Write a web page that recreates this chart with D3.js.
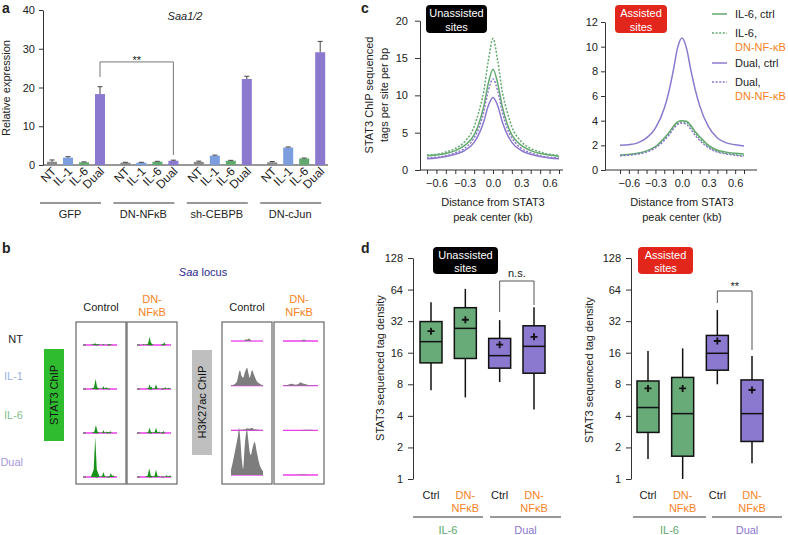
<!DOCTYPE html>
<html>
<head>
<meta charset="utf-8">
<script src="https://cdn.jsdelivr.net/npm/d3@7"></script>
<style>
  body { margin: 0; background: #fff; }
  svg { display: block; font-family: "Liberation Sans", Arial, sans-serif; }
</style>
</head>
<body>
<div id="fig"></div>
<script>
// ---------- panel a : Saa1/2 expression ----------
const groups = ["GFP", "DN-NFκB", "sh-CEBPB", "DN-cJun"];
const treatments = ["NT", "IL-1", "IL-6", "Dual"];
const exprMean = [[0.85, 1.9, 0.7, 18.3], [0.6, 0.6, 0.85, 1.1], [0.8, 2.4, 1.1, 22.2], [0.7, 4.5, 1.7, 29.1]];
const exprErr = [[0.45, 0.25, 0.1, 1.9], [0.1, 0.1, 0.1, 0.15], [0.2, 0.15, 0.1, 0.7], [0.2, 0.15, 0.1, 2.8]];
const aTicks = [0, 10, 20, 30, 40];

// ---------- panel b : browser tracks (peak position 0-1, height) ----------
const trackRows = ["NT", "IL-1", "IL-6", "Dual"];
const stat3Ctrl = [
  [[0.3, 1.5], [0.36, 2], [0.45, 1.2], [0.6, 1], [0.8, 1.2]],
  [[0.37, 10], [0.6, 2.7], [0.68, 2]],
  [[0.38, 8], [0.6, 2.7], [0.7, 1.5], [0.8, 2]],
  [[0.36, 40], [0.6, 5], [0.82, 4], [0.88, 2]]
];
const stat3Dn = [
  [[0.2, 1], [0.37, 8], [0.42, 2], [0.8, 2.7]],
  [[0.37, 4.7], [0.42, 2.5], [0.56, 4.7], [0.83, 2], [0.93, 1.5]],
  [[0.37, 5.3], [0.56, 5.3], [0.66, 1.5], [0.78, 2]],
  [[0.36, 8.7], [0.56, 7.3], [0.87, 2], [0.97, 1.8]]
];
const h3Ctrl = [
  [[0, 0], [0.4, 0], [0.45, 1.5], [0.52, 1.5], [0.56, 2.5], [0.6, 1.5], [0.65, 0], [1, 0]],
  [[0, 0], [0.08, 1], [0.18, 4], [0.28, 15.5], [0.33, 10], [0.38, 8], [0.44, 14], [0.5, 18], [0.55, 12], [0.58, 8], [0.66, 15.5], [0.72, 11], [0.8, 5], [0.9, 2], [1, 0.5]],
  [[0, 0], [0.35, 0.5], [0.45, 1], [0.5, 2], [0.58, 1.5], [0.65, 2.5], [0.72, 1], [0.85, 0.5], [1, 0]],
  [[0, 5], [0.05, 12], [0.15, 28], [0.22, 40], [0.25, 47], [0.29, 36], [0.34, 15], [0.38, 6], [0.42, 25], [0.47, 42], [0.5, 45], [0.54, 35], [0.58, 24], [0.62, 20], [0.68, 28], [0.74, 33], [0.8, 24], [0.88, 12], [0.95, 6], [1, 4]]
];
const h3Dn = [
  [[0, 0], [0.5, 0], [0.6, 1.5], [0.68, 0], [1, 0]],
  [[0, 0], [0.15, 1], [0.25, 1.8], [0.35, 1], [0.45, 2], [0.5, 3.5], [0.55, 2.5], [0.65, 1.5], [0.75, 0.5], [1, 0]],
  [[0, 0], [0.5, 0], [0.6, 0.7], [0.8, 0.7], [0.9, 0], [1, 0]],
  [[0, 0], [0.4, 0], [0.5, 0.6], [0.65, 0.6], [0.7, 0], [1, 0]]
];

// ---------- panel c : STAT3 ChIP profiles ----------
const distKb = [-0.7, -0.6, -0.5, -0.4, -0.3, -0.2, -0.15, -0.1, -0.05, 0, 0.05, 0.1, 0.15, 0.2, 0.3, 0.4, 0.5, 0.6, 0.7];
const unIl6Ctrl = [1.9, 2.0, 2.2, 2.6, 3.3, 4.7, 6.2, 8.4, 11.6, 13.5, 11.6, 8.4, 6.2, 4.7, 3.3, 2.6, 2.2, 2.0, 1.85];
const unIl6Dn = [2.0, 2.1, 2.4, 2.9, 3.8, 5.8, 7.8, 10.4, 14.6, 17.6, 14.6, 10.4, 7.8, 5.8, 3.8, 2.9, 2.4, 2.1, 1.95];
const unDualCtrl = [1.5, 1.6, 1.8, 2.1, 2.6, 3.7, 4.8, 6.4, 8.6, 9.7, 8.6, 6.4, 4.8, 3.7, 2.6, 2.1, 1.8, 1.6, 1.5];
const unDualDn = [1.6, 1.7, 1.9, 2.3, 2.9, 4.3, 5.6, 7.7, 10.6, 12.2, 10.6, 7.7, 5.6, 4.3, 2.9, 2.3, 1.9, 1.7, 1.6];
const asDualCtrl = [2.0, 2.05, 2.2, 2.6, 3.4, 5.0, 6.3, 8.0, 9.9, 10.7, 9.9, 8.1, 6.5, 5.2, 3.5, 2.6, 2.2, 2.05, 1.95];
const asIl6Ctrl = [1.2, 1.25, 1.35, 1.55, 1.9, 2.6, 3.0, 3.5, 3.9, 4.0, 3.95, 3.6, 3.1, 2.7, 2.0, 1.6, 1.45, 1.35, 1.3];
const asIl6Dn = [1.2, 1.25, 1.3, 1.5, 1.85, 2.5, 2.9, 3.4, 3.8, 3.9, 3.85, 3.5, 3.0, 2.55, 1.9, 1.5, 1.35, 1.25, 1.15];
const asDualDn = [1.15, 1.2, 1.3, 1.45, 1.8, 2.4, 2.8, 3.3, 3.7, 3.8, 3.7, 3.3, 2.8, 2.4, 1.8, 1.45, 1.3, 1.2, 1.1];
const cTicks = [-0.7, -0.6, -0.5, -0.4, -0.3, -0.2, -0.1, 0, 0.1, 0.2, 0.3, 0.4, 0.5, 0.6, 0.7];
const cTickLabels = [-0.6, -0.3, 0, 0.3, 0.6];
const cLeftTicks = [0, 5, 10, 15, 20];
const cRightTicks = [0, 2, 4, 6, 8, 10, 12];

// ---------- panel d : tag density boxplots ----------
const boxCats = ["IL-6 Ctrl", "IL-6 DN", "Dual Ctrl", "Dual DN"];
const unLow = [7.0, 6.0, 8.4, 4.6];
const unQ1 = [12.8, 14.1, 11.4, 10.2];
const unMed = [20.4, 27.3, 15.0, 18.4];
const unQ3 = [31.7, 43, 21.9, 28.9];
const unHigh = [48.5, 65, 32.7, 43.4];
const unMean = [25.7, 33, 19.1, 22.7];
const asLow = [1.55, 1.0, 8.0, 1.41];
const asQ1 = [2.78, 1.65, 10.9, 2.28];
const asMed = [4.8, 4.2, 15.8, 4.2];
const asQ3 = [8.6, 9.3, 23.4, 8.8];
const asHigh = [16.6, 17.6, 40.8, 14.9];
const asMean = [7.3, 7.3, 20.7, 7.06];
const dTicks = [1, 2, 4, 8, 16, 32, 64, 128];

const C = {
  gray: "#8a8a8a", blue: "#7d9ede", green: "#62a96f", purple: "#8b78cf",
  boxGreen: "#68ab79", orange: "#f7821e", magenta: "#ec3dec", track: "#179117",
  ink: "#222"
};
const barColors = [C.gray, C.blue, C.green, C.purple];

const svg = d3.select("#fig").append("svg").attr("width", 788).attr("height", 535);

function label(g, x, y, s, o = {}) {
  const t = g.append("text").attr("x", x).attr("y", y).text(s)
    .attr("font-size", o.size || 11)
    .attr("text-anchor", o.anchor || "middle")
    .style("fill", o.color || C.ink);
  if (o.italic) t.attr("font-style", "italic");
  if (o.bold) t.attr("font-weight", "bold");
  if (o.rotate) t.attr("transform", `rotate(${o.rotate},${x},${y})`);
  return t;
}
function styleAxis(sel) {
  sel.attr("font-family", null).attr("font-size", 11);
  sel.selectAll("text").style("fill", C.ink);
  sel.selectAll("line,path").attr("stroke", "#333");
}

// panel letters
label(svg, 2, 13, "a", { anchor: "start", bold: true, size: 14 });
label(svg, 2, 253, "b", { anchor: "start", bold: true, size: 14 });
label(svg, 361, 13, "c", { anchor: "start", bold: true, size: 14 });
label(svg, 361, 253, "d", { anchor: "start", bold: true, size: 14 });

// ================= panel a =================
const gA = svg.append("g");
const yA = d3.scaleLinear().domain([0, 40]).range([165, 10]);
const xGroup = d3.scaleBand().domain(groups).range([44, 328.2]).paddingInner(0.128).paddingOuter(0);
const xBar = d3.scaleBand().domain(treatments).range([0, xGroup.bandwidth()]).paddingInner(0.375).paddingOuter(0.1875);

gA.append("g").attr("transform", "translate(43,0)")
  .call(d3.axisLeft(yA).tickValues(aTicks).tickSize(4).tickPadding(4).tickSizeOuter(0))
  .call(styleAxis);
gA.append("line").attr("x1", 43).attr("x2", 328).attr("y1", 165).attr("y2", 165).attr("stroke", "#333");

label(gA, 10, 88, "Relative expression", { rotate: -90 });
label(gA, 185, 20, "Saa1/2", { italic: true });

groups.forEach((g, gi) => {
  const gx = xGroup(g);
  treatments.forEach((t, ti) => {
    const v = exprMean[gi][ti], e = exprErr[gi][ti];
    const x = gx + xBar(t), w = xBar.bandwidth(), cx = x + w / 2;
    gA.append("rect").attr("x", x).attr("y", yA(v)).attr("width", w)
      .attr("height", yA(0) - yA(v)).attr("fill", barColors[ti]);
    gA.append("line").attr("x1", cx).attr("x2", cx).attr("y1", yA(v)).attr("y2", yA(v + e)).attr("stroke", "#444");
    gA.append("line").attr("x1", cx - 2.5).attr("x2", cx + 2.5).attr("y1", yA(v + e)).attr("y2", yA(v + e)).attr("stroke", "#444");
    label(gA, cx + 5, 172, t, { anchor: "end", rotate: -45, size: 12 });
  });
  gA.append("line").attr("x1", gx - 4).attr("x2", gx + 57).attr("y1", 203).attr("y2", 203).attr("stroke", "#333");
  label(gA, gx + 26, 218, g);
});

// significance bracket GFP Dual vs DN-NFkB Dual
{
  const x1 = xGroup("GFP") + xBar("Dual") + xBar.bandwidth() / 2;
  const x2 = xGroup("DN-NFκB") + xBar("Dual") + xBar.bandwidth() / 2;
  gA.append("path").attr("d", `M${x1},${yA(22.7)}V${yA(26.6)}H${x2}V${yA(2.6)}`)
    .attr("fill", "none").attr("stroke", "#777");
  label(gA, (x1 + x2) / 2, yA(26.6) + 2, "**", { size: 11 });
}

// ================= panel b =================
const gB = svg.append("g");
{
  const sl = gB.append("text").attr("x", 203).attr("y", 276).attr("text-anchor", "middle")
    .attr("font-size", 11).style("fill", "#2a2a8e");
  sl.append("tspan").attr("font-style", "italic").text("Saa");
  sl.append("tspan").text(" locus");
}
const rowColors = [C.ink, "#9bb1e3", "#7fc08c", "#a898de"];
const rowLabelY = [339, 376, 415, 462];
trackRows.forEach((r, i) => label(gB, 23, rowLabelY[i] + 4, r, { anchor: "end", color: rowColors[i] }));

// side tags
gB.append("rect").attr("x", 44).attr("y", 349).attr("width", 20).attr("height", 92).attr("fill", "#2fbd2f");
label(gB, 58, 395, "STAT3 ChIP", { rotate: -90, color: "#111" });
gB.append("rect").attr("x", 192).attr("y", 350).attr("width", 20).attr("height", 105).attr("fill", "#bfbfbf");
label(gB, 206, 402, "H3K27ac ChIP", { rotate: -90, color: "#111" });

const panels = [
  { box: [76, 126], tr: [83, 117], data: stat3Ctrl, kind: "peak", head: "ctrl", rows: [345, 477] },
  { box: [127, 177], tr: [137, 171], data: stat3Dn, kind: "peak", head: "dn", rows: [345, 477] },
  { box: [222, 272], tr: [231, 263], data: h3Ctrl, kind: "profile", head: "ctrl", rows: [341, 475] },
  { box: [274, 324], tr: [283, 318], data: h3Dn, kind: "profile", head: "dn", rows: [341, 475] }
];
const hScale = d3.scaleLinear().domain([0, 50]).range([0, 50]);
panels.forEach(p => {
  const cx = (p.box[0] + p.box[1]) / 2;
  if (p.head === "ctrl") label(gB, cx, 311, "Control");
  else {
    label(gB, cx, 303, "DN-", { color: C.orange });
    label(gB, cx, 316, "NFκB", { color: C.orange });
  }
  gB.append("rect").attr("x", p.box[0]).attr("y", 322).attr("width", p.box[1] - p.box[0])
    .attr("height", 162).attr("fill", "none").attr("stroke", "#666").attr("stroke-width", 1.2);
  const xT = d3.scaleLinear().domain([0, 1]).range(p.tr);
  const yRow = d3.scalePoint().domain(trackRows).range(p.rows);
  // draw bottom rows first so upper rows sit on top
  trackRows.slice().reverse().forEach(r => {
    const ri = trackRows.indexOf(r);
    const base = yRow(r);
    const tr = p.data[ri];
    gB.append("line").attr("x1", p.tr[0]).attr("x2", p.tr[1]).attr("y1", base).attr("y2", base)
      .attr("stroke", C.magenta).attr("stroke-width", 1.3);
    if (p.kind === "peak") {
      tr.forEach(([pos, h]) => {
        const px = xT(pos), w = 3 + Math.min(h, 10) * 0.15;
        const pts = [[px - w, 0], [px - w * 0.35, h * 0.18], [px, h], [px + w * 0.35, h * 0.18], [px + w, 0]];
        gB.append("path")
          .attr("d", d3.area().x(d => d[0]).y0(base).y1(d => base - hScale(d[1]))(pts))
          .attr("fill", C.track);
      });
      gB.append("line").attr("x1", p.tr[0]).attr("x2", p.tr[1]).attr("y1", base).attr("y2", base)
        .attr("stroke", C.track).attr("stroke-width", 0.8).attr("stroke-dasharray", "3,9");
    } else {
      gB.append("path")
        .attr("d", d3.area().x(d => xT(d[0])).y0(base).y1(d => base - hScale(d[1])).curve(d3.curveMonotoneX)(tr))
        .attr("fill", "#7d7d7d");
    }
  });
});

// ================= panel c =================
const gC = svg.append("g");
function profilePanel(g, xs, ys, axisX, axisRight, ticksY, ticksYopts, series) {
  g.append("g").attr("transform", `translate(${axisX},0)`)
    .call(d3.axisLeft(ys).tickValues(ticksY).tickSize(ticksYopts[0]).tickPadding(ticksYopts[1]).tickSizeOuter(0))
    .call(styleAxis);
  const xa = g.append("g").attr("transform", "translate(0,170)")
    .call(d3.axisBottom(xs).tickValues(cTicks).tickSize(4).tickPadding(5)
      .tickFormat(d => cTickLabels.some(v => Math.abs(v - d) < 1e-9) ? d3.format(".1f")(d) : ""))
    .call(styleAxis);
  xa.select(".domain").remove();
  g.append("line").attr("x1", axisX).attr("x2", axisRight).attr("y1", 170).attr("y2", 170).attr("stroke", "#333");
  const line = d3.line().x((d, i) => xs(distKb[i])).y(d => ys(d)).curve(d3.curveMonotoneX);
  series.forEach(s => {
    g.append("path").attr("d", line(s.v)).attr("fill", "none").attr("stroke", s.c)
      .attr("stroke-width", 1.5).attr("stroke-dasharray", s.dash ? "2,1.6" : null);
  });
  const cx = (xs.range()[0] + xs.range()[1]) / 2;
  label(g, cx, 206, "Distance from STAT3");
  label(g, cx, 221, "peak center (kb)");
}
const xC1 = d3.scaleLinear().domain([-0.7, 0.7]).range([427, 559]);
const yC1 = d3.scaleLinear().domain([0, 20]).range([170, 20.7]);
profilePanel(gC, xC1, yC1, 420, 563, cLeftTicks, [5, 7], [
  { v: unIl6Ctrl, c: C.green }, { v: unIl6Dn, c: C.green, dash: true },
  { v: unDualCtrl, c: C.purple }, { v: unDualDn, c: C.purple, dash: true }
]);
const xC2 = d3.scaleLinear().domain([-0.7, 0.7]).range([620, 744]);
const yC2 = d3.scaleLinear().domain([0, 12]).range([170, 22]);
profilePanel(gC, xC2, yC2, 605, 757, cRightTicks, [4, 3], [
  { v: asIl6Ctrl, c: C.green }, { v: asIl6Dn, c: C.green, dash: true },
  { v: asDualDn, c: C.purple, dash: true }, { v: asDualCtrl, c: C.purple }
]);
label(gC, 373, 95, "STAT3 ChIP sequenced", { rotate: -90 });
label(gC, 388, 95, "tags per site per bp", { rotate: -90 });

function tag(g, x, y, w, h, fill, lines, ty) {
  g.append("rect").attr("x", x).attr("y", y).attr("width", w).attr("height", h).attr("rx", 4).attr("fill", fill);
  lines.forEach((s, i) => label(g, x + w / 2, ty[i], s, { color: "#fff" }));
}
tag(gC, 426, 5, 61, 28, "#000", ["Unassisted", "sites"], [17, 31]);
tag(gC, 615, 5, 52, 28, "#e3261b", ["Assisted", "sites"], [17, 31]);

// legend
const legend = [
  { y: 14, c: C.green, dash: false, l1: "IL-6, ctrl" },
  { y: 33, c: C.green, dash: true, l1: "IL-6,", l2: "DN-NF-κB" },
  { y: 63, c: C.purple, dash: false, l1: "Dual, ctrl" },
  { y: 82, c: C.purple, dash: true, l1: "Dual,", l2: "DN-NF-κB" }
];
legend.forEach(d => {
  gC.append("line").attr("x1", 712).attr("x2", 727).attr("y1", d.y).attr("y2", d.y)
    .attr("stroke", d.c).attr("stroke-width", 1.5).attr("stroke-dasharray", d.dash ? "2,1.6" : null);
  label(gC, 735, d.y + 4, d.l1, { anchor: "start" });
  if (d.l2) label(gC, 735, d.y + 18, d.l2, { anchor: "start", color: C.orange });
});

// ================= panel d =================
const gD = svg.append("g");
const yD = d3.scaleLog().base(2).domain([1, 128]).range([479, 258]);
const boxFill = [C.boxGreen, C.boxGreen, C.purple, C.purple];
function boxPanel(g, axisX, xr, st, lines) {
  g.append("g").attr("transform", `translate(${axisX},0)`)
    .call(d3.axisLeft(yD).tickValues(dTicks).tickFormat(d3.format("d")).tickSize(5).tickPadding(5).tickSizeOuter(0))
    .call(styleAxis);
  const x = d3.scalePoint().domain(boxCats).range(xr);
  const hw = 11;
  boxCats.forEach((c, i) => {
    const cx = x(c);
    g.append("line").attr("x1", cx).attr("x2", cx).attr("y1", yD(st.low[i])).attr("y2", yD(st.high[i]))
      .attr("stroke", "#111").attr("stroke-width", 1.5);
    g.append("rect").attr("x", cx - hw).attr("y", yD(st.q3[i])).attr("width", hw * 2)
      .attr("height", yD(st.q1[i]) - yD(st.q3[i])).attr("fill", boxFill[i])
      .attr("stroke", "#111").attr("stroke-width", 1.5);
    g.append("line").attr("x1", cx - hw).attr("x2", cx + hw).attr("y1", yD(st.med[i])).attr("y2", yD(st.med[i]))
      .attr("stroke", "#111").attr("stroke-width", 1.5);
    const my = yD(st.mean[i]);
    g.append("path").attr("d", `M${cx - 3.5},${my}H${cx + 3.5}M${cx},${my - 3.5}V${my + 3.5}`)
      .attr("stroke", "#111").attr("stroke-width", 1.8);
    if (i % 2 === 0) label(g, cx, 499, "Ctrl");
    else {
      label(g, cx, 499, "DN-", { color: C.orange });
      label(g, cx, 512, "NFκB", { color: C.orange });
    }
  });
  lines.forEach(l => {
    g.append("line").attr("x1", l[0]).attr("x2", l[1]).attr("y1", 517).attr("y2", 517).attr("stroke", "#333");
    label(g, (l[0] + l[1]) / 2, 534, l[2], { color: l[3] });
  });
  return x;
}
const xD1 = boxPanel(gD, 413, [431, 534], { low: unLow, q1: unQ1, med: unMed, q3: unQ3, high: unHigh, mean: unMean },
  [[413, 483, "IL-6", "#5da86c"], [490, 561, "Dual", "#8b78cf"]]);
const xD2 = boxPanel(gD, 631, [648, 752], { low: asLow, q1: asQ1, med: asMed, q3: asQ3, high: asHigh, mean: asMean },
  [[633, 706, "IL-6", "#5da86c"], [712, 782, "Dual", "#8b78cf"]]);
label(gD, 384, 368, "STAT3 sequenced tag density", { rotate: -90 });
label(gD, 593, 370, "STAT3 sequenced tag density", { rotate: -90 });
tag(gD, 433, 247, 65, 27, "#000", ["Unassisted", "sites"], [259, 272]);
tag(gD, 638, 247, 55, 27, "#e3261b", ["Assisted", "sites"], [259, 272]);

// brackets
{
  const a1 = xD1("Dual Ctrl"), a2 = xD1("Dual DN");
  gD.append("path").attr("d", `M${a1},312V281H${a2}V305`).attr("fill", "none").attr("stroke", "#555");
  label(gD, (a1 + a2) / 2, 277, "n.s.");
  const b1 = xD2("Dual Ctrl"), b2 = xD2("Dual DN");
  gD.append("path").attr("d", `M${b1},303V291H${b2}V350`).attr("fill", "none").attr("stroke", "#555");
  label(gD, (b1 + b2) / 2, 290, "**");
}
</script>
</body>
</html>
